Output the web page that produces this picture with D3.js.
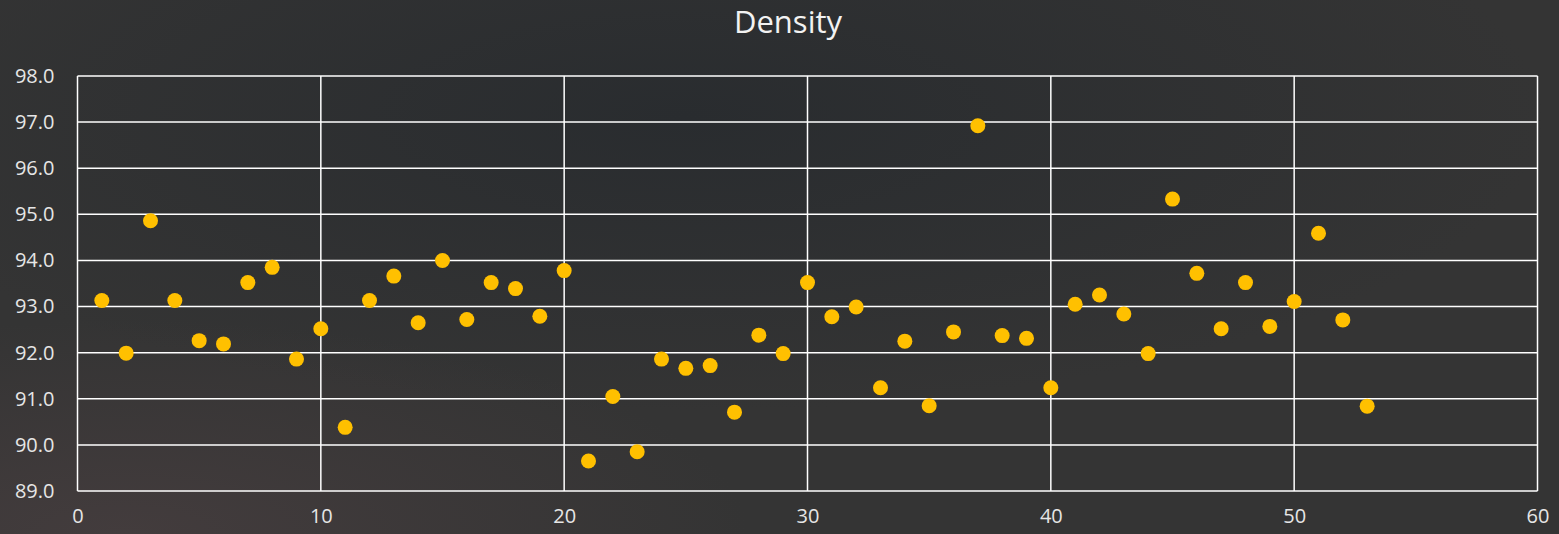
<!DOCTYPE html>
<html>
<head>
<meta charset="utf-8">
<script src="https://cdn.jsdelivr.net/npm/d3@7"></script>
<style>
  html, body { margin: 0; padding: 0; background: #333; }
  svg { display: block; }
</style>
</head>
<body>
<svg id="chart" width="1559" height="534"></svg>
<script>
// Sample number and measured density
const sampleIds = [1,2,3,4,5,6,7,8,9,10,11,12,13,14,15,16,17,18,19,20,21,22,23,24,25,26,27,
  28,29,30,31,32,33,34,35,36,37,38,39,40,41,42,43,44,45,46,47,48,49,50,51,52,53];
const densityValues = [93.13,91.99,94.86,93.13,92.26,92.19,93.52,93.85,91.86,92.52,90.38,93.13,
  93.66,92.65,94.0,92.72,93.52,93.39,92.79,93.78,89.65,91.05,89.85,91.86,91.66,91.72,90.71,
  92.38,91.98,93.52,92.78,92.99,91.24,92.25,90.85,92.45,96.92,92.37,92.31,91.24,93.05,93.25,
  92.84,91.98,95.33,93.72,92.52,93.52,92.57,93.11,94.59,92.71,90.84];
const xTicks = [0,10,20,30,40,50,60];
const yTicks = [89,90,91,92,93,94,95,96,97,98];
const chartTitle = "Density";

const W = 1559, H = 534;
const margin = { left: 77.5, right: 21.5, top: 76, bottom: 43 };

const svg = d3.select("#chart");
const defs = svg.append("defs");

// Background shading: dark centre glow with a warmer lower-left corner
const g1 = defs.append("radialGradient").attr("id", "bgCenter")
  .attr("cx", "44%").attr("cy", "22%").attr("r", "55%");
g1.append("stop").attr("offset", "0%").attr("stop-color", "#292c2f");
g1.append("stop").attr("offset", "100%").attr("stop-color", "#343434");

const g2 = defs.append("radialGradient").attr("id", "bgCorner")
  .attr("cx", "8%").attr("cy", "100%").attr("r", "40%");
g2.append("stop").attr("offset", "0%").attr("stop-color", "#433c3d").attr("stop-opacity", 1);
g2.append("stop").attr("offset", "100%").attr("stop-color", "#433c3d").attr("stop-opacity", 0);

svg.append("rect").attr("width", W).attr("height", H).attr("fill", "url(#bgCenter)");
svg.append("rect").attr("width", W).attr("height", H).attr("fill", "url(#bgCorner)");

const x = d3.scaleLinear().domain([0, 60]).range([margin.left, W - margin.right]);
const y = d3.scaleLinear().domain([89, 98]).range([H - margin.bottom, margin.top]);

// Gridlines
const grid = svg.append("g").attr("stroke", "#ffffff").attr("stroke-width", 1.5);
grid.selectAll("line.h").data(yTicks).join("line").attr("class", "h")
  .attr("x1", x(0)).attr("x2", x(60))
  .attr("y1", d => y(d)).attr("y2", d => y(d));
grid.selectAll("line.v").data(xTicks).join("line").attr("class", "v")
  .attr("x1", d => x(d)).attr("x2", d => x(d))
  .attr("y1", y(89)).attr("y2", y(98));

// Axes (labels only)
const font = "'Open Sans', 'Segoe UI', sans-serif";
const yAxis = svg.append("g").attr("transform", `translate(${x(0)},0)`)
  .call(d3.axisLeft(y).tickValues(yTicks).tickFormat(d3.format(".1f")).tickSize(0).tickPadding(23));
const xAxis = svg.append("g").attr("transform", `translate(0,${y(89)})`)
  .call(d3.axisBottom(x).tickValues(xTicks).tickFormat(d3.format("d")).tickSize(0).tickPadding(18));
[yAxis, xAxis].forEach(a => {
  a.select(".domain").remove();
  a.selectAll("text").attr("fill", "#e6e6e6").style("font-family", font).style("font-size", "20px");
});

// Points
svg.append("g").selectAll("circle")
  .data(sampleIds.map((id, i) => ({ id, v: densityValues[i] })))
  .join("circle")
  .attr("cx", d => x(d.id)).attr("cy", d => y(d.v))
  .attr("r", 7.5).attr("fill", "#ffc000");

// Title
svg.append("text").attr("x", 788).attr("y", 33)
  .attr("text-anchor", "middle").attr("fill", "#f2f2f2")
  .style("font-family", font).style("font-size", "31px")
  .text(chartTitle);
</script>
</body>
</html>
